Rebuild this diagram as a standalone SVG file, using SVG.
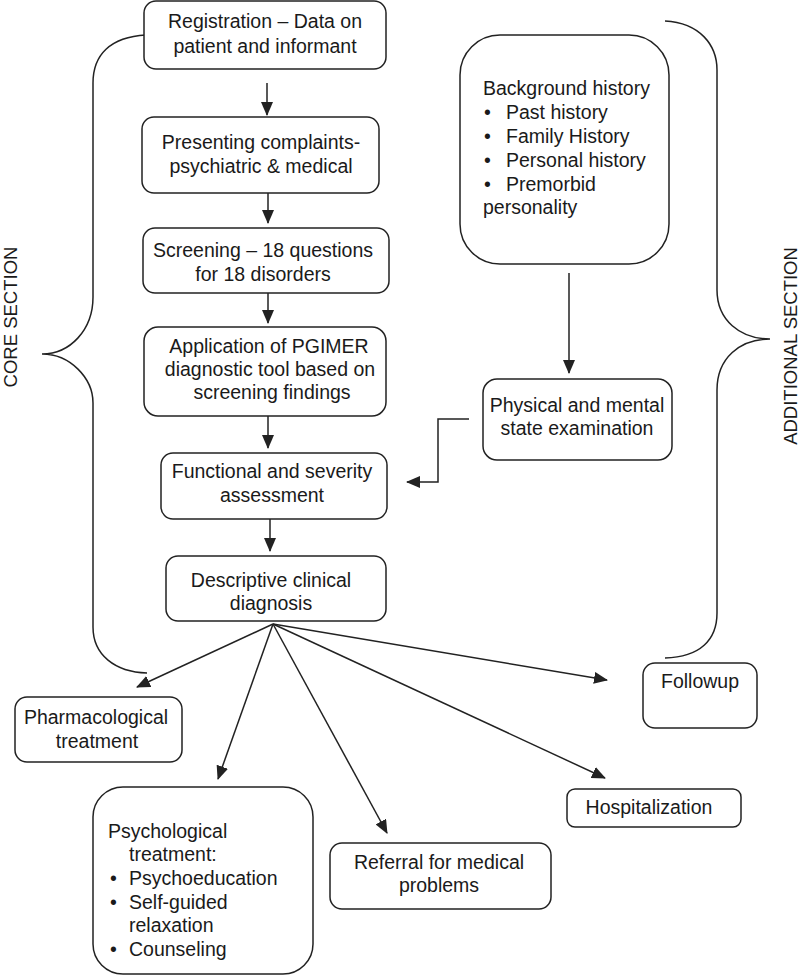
<svg xmlns="http://www.w3.org/2000/svg" width="800" height="976" viewBox="0 0 800 976">
<style>
.box{fill:#fff;stroke:#222;stroke-width:1.5}
.t{font-family:"Liberation Sans",Arial,sans-serif;font-size:19.5px;fill:#1a1a1a}
.lab{font-family:"Liberation Sans",Arial,sans-serif;font-size:18.5px;fill:#1a1a1a;text-anchor:middle}
.c{text-anchor:middle}
.ln{fill:none;stroke:#222;stroke-width:1.5}
.br{fill:none;stroke:#222;stroke-width:1.5}
</style>
<defs>
<marker id="ah" markerUnits="userSpaceOnUse" markerWidth="14" markerHeight="12" refX="13" refY="6" orient="auto">
<path d="M0,0 L14,6 L0,12 z" fill="#222"/>
</marker>
</defs>
<rect width="800" height="976" fill="#fff"/>

<g id="braces">
<path class="br" d="M146,35 C110,37 93,55 93,83 L93,297 C93,330 70,354 42,354 C70,354 93,378 93,403 L93,627 C93,655 115,672 147,673"/>
<path class="br" d="M665,21 C700,23 717,45 717,70 L717,290 C717,320 740,339 770,339 C740,339 717,358 717,390 L717,613 C717,640 700,657 665,658"/>
<text class="lab" transform="translate(17,317) rotate(-90)">CORE SECTION</text>
<text class="lab" transform="translate(797,346) rotate(-90)">ADDITIONAL SECTION</text>
</g>

<g id="registration">
<rect class="box" x="144" y="1" width="242" height="68" rx="12"/>
<text class="t c" x="265" y="28">Registration – Data on</text>
<text class="t c" x="265" y="53">patient and informant</text>
</g>

<g id="presenting">
<rect class="box" x="142" y="117" width="237" height="76" rx="12"/>
<text class="t c" x="261" y="149">Presenting complaints-</text>
<text class="t c" x="261" y="173">psychiatric &amp; medical</text>
</g>

<g id="screening">
<rect class="box" x="143" y="228" width="246" height="65" rx="12"/>
<text class="t c" x="263" y="257">Screening – 18 questions</text>
<text class="t c" x="263" y="281">for 18 disorders</text>
</g>

<g id="application">
<rect class="box" x="144" y="327" width="242" height="89" rx="14"/>
<text class="t c" x="269" y="353">Application of PGIMER</text>
<text class="t c" x="270" y="376">diagnostic tool based on</text>
<text class="t c" x="272" y="399">screening findings</text>
</g>

<g id="functional">
<rect class="box" x="161" y="453" width="226" height="66" rx="12"/>
<text class="t c" x="272" y="478">Functional and severity</text>
<text class="t c" x="272" y="502">assessment</text>
</g>

<g id="descriptive">
<rect class="box" x="166" y="556" width="220" height="65" rx="12"/>
<text class="t c" x="271" y="587">Descriptive clinical</text>
<text class="t c" x="271" y="610">diagnosis</text>
</g>

<g id="background">
<rect class="box" x="460" y="35" width="209" height="229" rx="40"/>
<text class="t" x="483" y="95">Background history</text>
<text class="t" x="484" y="119">•</text><text class="t" x="506" y="119">Past history</text>
<text class="t" x="484" y="143">•</text><text class="t" x="506" y="143">Family History</text>
<text class="t" x="484" y="167">•</text><text class="t" x="506" y="167">Personal history</text>
<text class="t" x="484" y="191">•</text><text class="t" x="506" y="191">Premorbid</text>
<text class="t" x="483" y="214">personality</text>
</g>

<g id="physical">
<rect class="box" x="483" y="379" width="189" height="81" rx="14"/>
<text class="t c" x="577" y="412">Physical and mental</text>
<text class="t c" x="577" y="435">state examination</text>
</g>

<g id="pharmacological">
<rect class="box" x="15" y="697" width="167" height="65" rx="12"/>
<text class="t c" x="96" y="724">Pharmacological</text>
<text class="t c" x="97" y="748">treatment</text>
</g>

<g id="psychological">
<rect class="box" x="93" y="787" width="220" height="187" rx="30"/>
<text class="t" x="108" y="838">Psychological</text>
<text class="t" x="129" y="861">treatment:</text>
<text class="t" x="110" y="885">•</text><text class="t" x="129" y="885">Psychoeducation</text>
<text class="t" x="110" y="909">•</text><text class="t" x="129" y="909">Self-guided</text>
<text class="t" x="129" y="932">relaxation</text>
<text class="t" x="110" y="956">•</text><text class="t" x="129" y="956">Counseling</text>
</g>

<g id="referral">
<rect class="box" x="330" y="843" width="221" height="66" rx="12"/>
<text class="t c" x="439" y="869">Referral for medical</text>
<text class="t c" x="439" y="892">problems</text>
</g>

<g id="followup">
<rect class="box" x="643" y="663" width="114" height="65" rx="12"/>
<text class="t c" x="700" y="688">Followup</text>
</g>

<g id="hospitalization">
<rect class="box" x="567" y="789" width="174" height="38" rx="8"/>
<text class="t c" x="649" y="814">Hospitalization</text>
</g>

<g id="connectors">
<line class="ln" x1="267" y1="83" x2="267" y2="115" marker-end="url(#ah)"/>
<line class="ln" x1="268" y1="193" x2="268" y2="223" marker-end="url(#ah)"/>
<line class="ln" x1="268" y1="293" x2="268" y2="323" marker-end="url(#ah)"/>
<line class="ln" x1="268" y1="416" x2="268" y2="448" marker-end="url(#ah)"/>
<line class="ln" x1="270" y1="519" x2="270" y2="551" marker-end="url(#ah)"/>
<line class="ln" x1="569" y1="273" x2="569" y2="373" marker-end="url(#ah)"/>
<polyline class="ln" points="469,419 438,419 438,482 407,482" marker-end="url(#ah)"/>
<line class="ln" x1="273" y1="624" x2="137" y2="687" marker-end="url(#ah)"/>
<line class="ln" x1="273" y1="624" x2="218" y2="779" marker-end="url(#ah)"/>
<line class="ln" x1="273" y1="624" x2="387" y2="833" marker-end="url(#ah)"/>
<line class="ln" x1="273" y1="624" x2="605" y2="778" marker-end="url(#ah)"/>
<line class="ln" x1="273" y1="624" x2="607" y2="680" marker-end="url(#ah)"/>
</g>
</svg>
